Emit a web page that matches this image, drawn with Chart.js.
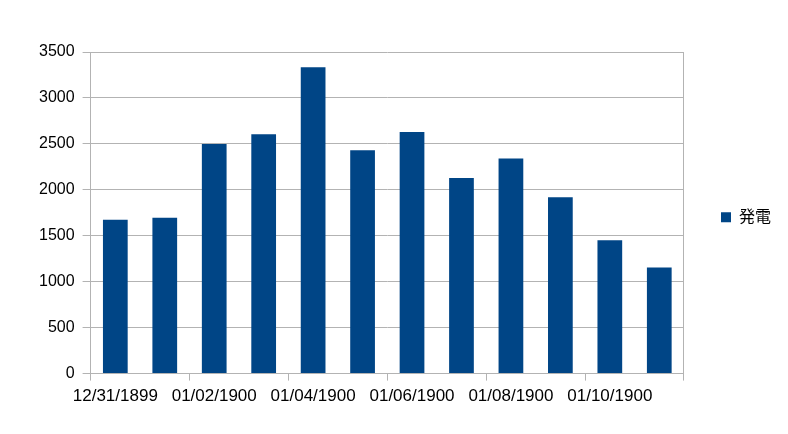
<!DOCTYPE html>
<html>
<head>
<meta charset="utf-8">
<script src="https://cdn.jsdelivr.net/npm/chart.js@4"></script>
<style>
  body { margin: 0; background: #fff; }
  #wrap { width: 788px; height: 434px; }
</style>
</head>
<body>
<div id="wrap"><canvas id="myChart"></canvas></div>
<script>
const labels = [
    '12/31/1899', '01/01/1900', '01/02/1900', '01/03/1900',
    '01/04/1900', '01/05/1900', '01/06/1900', '01/07/1900',
    '01/08/1900', '01/09/1900', '01/10/1900', '01/11/1900',
]
const seriesName = '発電'
const inputData = [1675, 1695, 2500, 2605, 3335, 2430, 2630, 2130, 2340, 1920, 1450, 1155]
const yTicks = { min: 0, max: 3500, step: 500 }

const gridGray = '#b3b3b3'
const fontFamily = "'Liberation Sans', 'Noto Sans CJK JP', sans-serif"

const data = {
    labels: labels,
    datasets: [
        {
            label: seriesName,
            data: inputData,
            backgroundColor: '#004586',
            borderWidth: 0,
            categoryPercentage: 1,
            barPercentage: 0.5,
        },
    ],
}

const config = {
    type: 'bar',
    data: data,
    options: {
        responsive: true,
        maintainAspectRatio: false,
        animation: false,
        layout: { padding: { left: 31, top: 52, bottom: 21, right: 7 } },
        plugins: {
            tooltip: { enabled: false },
            legend: {
                position: 'right',
                fullSize: false,
                // blank title only nudges the entry down a little
                title: { display: true, text: ' ', font: { size: 5 }, padding: 1.5 },
                labels: {
                    boxWidth: 10,
                    boxHeight: 10,
                    padding: 37,
                    color: '#000',
                    font: { family: fontFamily, size: 16 },
                },
            },
        },
        scales: {
            x: {
                offset: true,
                border: { color: gridGray },
                grid: {
                    offset: true,
                    tickLength: 7,
                    // only the right frame line goes inside the plot
                    color: (c) => (c.type === 'tick' ? 'rgba(0,0,0,0)' : gridGray),
                    tickColor: (c) => (c.type !== 'tick' || c.index % 2 === 0 ? gridGray : 'rgba(0,0,0,0)'),
                },
                ticks: {
                    autoSkip: false,
                    maxRotation: 0,
                    padding: 6,
                    color: '#000',
                    font: { family: fontFamily, size: 17 },
                    callback: function (val, i) {
                        return i % 2 === 0 ? this.getLabelForValue(val) : ''
                    },
                },
            },
            y: {
                min: yTicks.min,
                max: yTicks.max,
                border: { color: gridGray },
                grid: { color: gridGray, tickLength: 8 },
                ticks: {
                    stepSize: yTicks.step,
                    padding: 8,
                    color: '#000',
                    font: { family: fontFamily, size: 16 },
                    callback: (v) => String(v),
                },
            },
        },
    },
}

const myChart = new Chart(document.getElementById('myChart'), config)
</script>
</body>
</html>
